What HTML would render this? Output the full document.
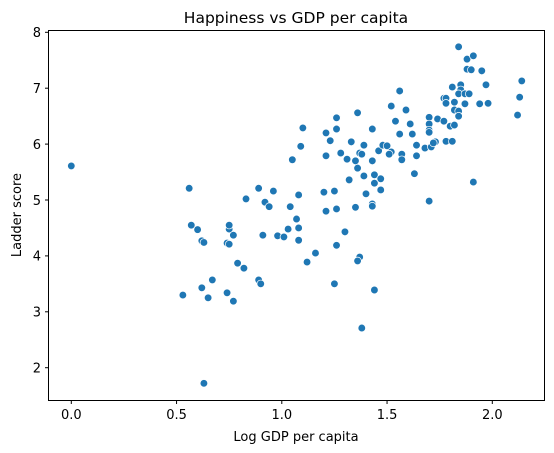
<!DOCTYPE html>
<html><head><meta charset="utf-8"><style>
html,body{margin:0;padding:0;background:#fff;}
svg{display:block;font-family:"DejaVu Sans","Liberation Sans",sans-serif;}
</style></head><body>
<svg id="chart" width="554" height="453" viewBox="0 0 554 453" xmlns="http://www.w3.org/2000/svg">
<rect x="0" y="0" width="554" height="453" fill="#fff"/>
<text x="296" y="23" text-anchor="middle" font-size="15.5" fill="#000">Happiness vs GDP per capita</text>
<g id="xticks"></g>
<g id="yticks"></g>
<g id="points"></g>
<rect x="48.5" y="30.5" width="496" height="370" fill="none" stroke="#000" stroke-width="1"/>
<text x="296" y="441" text-anchor="middle" font-size="13" fill="#000">Log GDP per capita</text>
<text x="0" y="0" transform="translate(21,215) rotate(-90)" text-anchor="middle" font-size="13" fill="#000">Ladder score</text>
</svg>
<script>
const xTicks = [0.0, 0.5, 1.0, 1.5, 2.0];
const xTickLabels = ["0.0", "0.5", "1.0", "1.5", "2.0"];
const yTicks = [2, 3, 4, 5, 6, 7, 8];
const yTickLabels = ["2", "3", "4", "5", "6", "7", "8"];
const gdp = [0.00,0.56,0.57,0.60,0.62,0.63,0.75,0.75,0.77,0.74,0.75,0.91,0.98,1.01,1.03,1.07,1.08,1.08,0.79,0.82,0.67,0.62,0.53,0.65,0.74,0.77,0.89,0.90,0.63,1.30,1.26,1.16,1.12,1.37,1.36,1.25,1.44,1.38,0.83,0.89,0.96,0.92,0.94,1.04,1.05,1.09,1.10,1.08,1.26,1.26,1.21,1.23,1.36,1.33,1.39,1.43,1.21,1.28,1.31,1.35,1.37,1.38,1.36,1.43,1.46,1.48,1.50,1.52,1.51,1.57,1.57,1.39,1.32,1.44,1.47,1.44,1.47,1.40,1.20,1.25,1.43,1.43,1.35,1.26,1.21,1.56,1.52,1.59,1.54,1.61,1.56,1.62,1.64,1.64,1.63,1.68,1.71,1.73,1.72,1.70,1.70,1.70,1.70,1.74,1.77,1.80,1.82,1.78,1.81,1.70,1.91,1.77,1.78,1.78,1.82,1.81,1.85,1.85,1.84,1.87,1.89,1.87,1.82,1.84,1.84,1.84,1.88,1.91,1.88,1.90,1.95,1.97,1.94,1.98,2.14,2.13,2.12];
const ladder = [5.61,5.21,4.55,4.47,4.27,4.24,4.48,4.55,4.37,4.23,4.21,4.37,4.36,4.34,4.48,4.66,4.50,4.28,3.87,3.78,3.57,3.43,3.30,3.25,3.34,3.19,3.57,3.50,1.72,4.43,4.19,4.05,3.89,3.98,3.91,3.50,3.39,2.71,5.02,5.21,5.16,4.96,4.88,4.88,5.72,5.96,6.29,5.09,6.47,6.27,6.20,6.06,6.56,6.04,5.98,6.27,5.79,5.84,5.73,5.70,5.84,5.82,5.57,5.70,5.88,5.98,5.97,5.86,5.82,5.82,5.72,5.43,5.36,5.45,5.38,5.30,5.18,5.11,5.14,5.16,4.93,4.89,4.87,4.84,4.80,6.95,6.68,6.61,6.41,6.36,6.18,6.18,5.98,5.79,5.47,5.93,5.95,6.04,6.02,6.48,6.36,6.25,6.21,6.45,6.41,6.32,6.34,6.05,6.05,4.98,5.32,6.82,6.82,6.73,6.75,7.02,7.06,6.97,6.90,6.90,6.90,6.72,6.61,6.59,6.50,7.74,7.52,7.58,7.34,7.33,7.31,7.06,6.72,6.73,7.13,6.84,6.52];

const NS = "http://www.w3.org/2000/svg";
function xScale(v){ return 71.3 + v * 210.5; }
function yScale(v){ return 32.3 + (8 - v) * 55.9; }

const gx = document.getElementById('xticks');
xTicks.forEach((t, i) => {
  const px = xScale(t);
  const ln = document.createElementNS(NS, 'line');
  ln.setAttribute('x1', px); ln.setAttribute('x2', px);
  ln.setAttribute('y1', 400.5); ln.setAttribute('y2', 404);
  ln.setAttribute('stroke', '#000');
  
  
  gx.appendChild(ln);
  const tx = document.createElementNS(NS, 'text');
  tx.setAttribute('x', px); tx.setAttribute('y', 419);
  tx.setAttribute('text-anchor', 'middle');
  tx.setAttribute('font-size', '13');
  tx.textContent = xTickLabels[i];
  
  
  gx.appendChild(tx);
});
const gy = document.getElementById('yticks');
yTicks.forEach((t, i) => {
  const py = yScale(t);
  const ln = document.createElementNS(NS, 'line');
  ln.setAttribute('x1', 45); ln.setAttribute('x2', 48.5);
  ln.setAttribute('y1', py); ln.setAttribute('y2', py);
  ln.setAttribute('stroke', '#000');
  
  
  gy.appendChild(ln);
  const tx = document.createElementNS(NS, 'text');
  tx.setAttribute('x', 41); tx.setAttribute('y', py + 4.8);
  tx.setAttribute('text-anchor', 'end');
  tx.setAttribute('font-size', '13');
  tx.textContent = yTickLabels[i];
  
  
  gy.appendChild(tx);
});
const gp = document.getElementById('points');
gdp.forEach((g, i) => {
  const c = document.createElementNS(NS, 'circle');
  c.setAttribute('cx', xScale(g));
  c.setAttribute('cy', yScale(ladder[i]));
  c.setAttribute('r', 3.8);
  c.setAttribute('fill', '#1f77b4');
  c.setAttribute('stroke', '#fff');
  c.setAttribute('stroke-width', '0.7');
  
  
  gp.appendChild(c);
});
</script>
</body></html>
